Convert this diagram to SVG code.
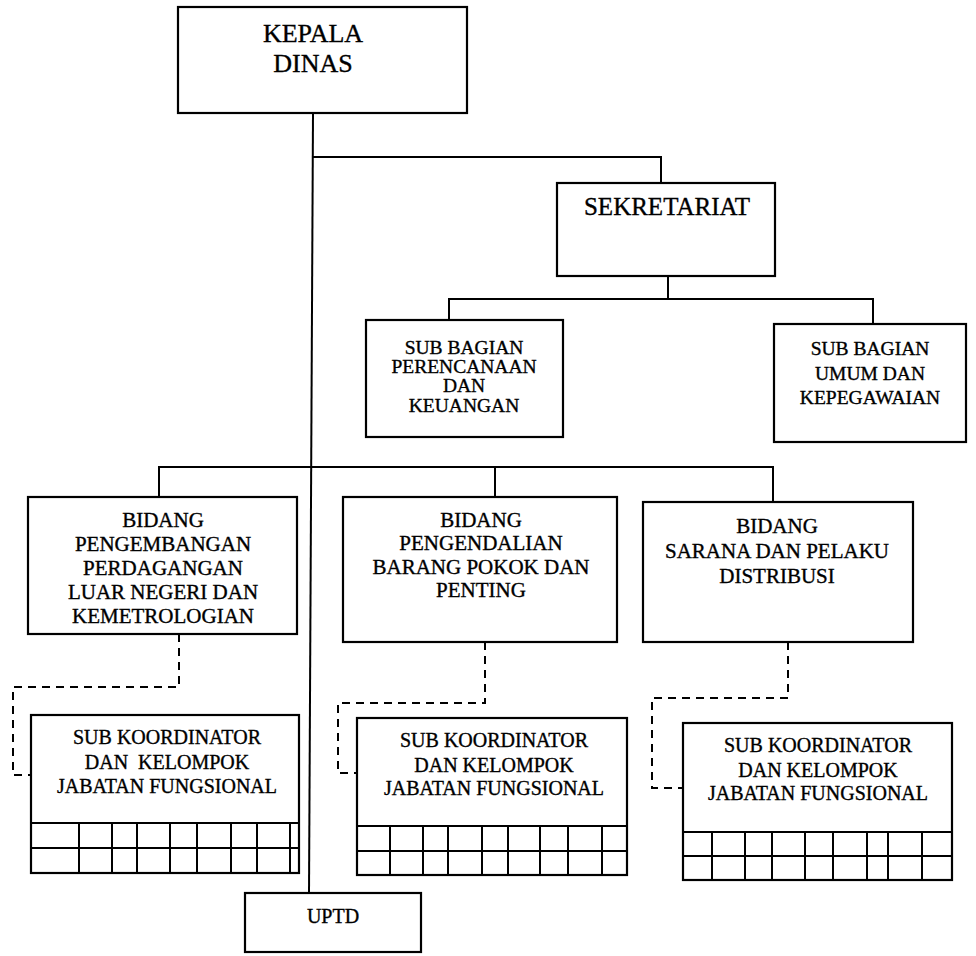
<svg xmlns="http://www.w3.org/2000/svg" width="976" height="956" viewBox="0 0 976 956">
<style>
.box{fill:#fff;stroke:#000;stroke-width:2.2}
.ln{fill:none;stroke:#000;stroke-width:2}
.dash{fill:none;stroke:#000;stroke-width:2;stroke-dasharray:8 6}
.grid{fill:none;stroke:#000;stroke-width:2}
text{font-family:"Liberation Serif","DejaVu Serif",serif;fill:#000;stroke:#000;stroke-width:0.35;text-anchor:middle}
.t1{font-size:26px}
.t2{font-size:25px}
.t3{font-size:19.5px}
.t4{font-size:21px}
.t5{font-size:20px}
</style>
<rect width="976" height="956" fill="#fff"/>
<g id="connectors">
<path class="ln" d="M313,113 L309,893"/>
<path class="ln" d="M313,157 H661 V183"/>
<path class="ln" d="M668,276 V299"/>
<path class="ln" d="M449,320 V299 H873 V324"/>
<path class="ln" d="M159,497 V467 H773 V502"/>
<path class="ln" d="M495,467 V497"/>
<path class="dash" d="M179,634 V687 H13 V775 H31"/>
<path class="dash" d="M485,642 V703 H338 V773 H357"/>
<path class="dash" d="M788,642 V698 H652 V788 H683"/>
</g>
<g id="kepala-dinas">
<rect class="box" x="178" y="7" width="289" height="106"/>
<text class="t1" x="313" y="42">KEPALA</text>
<text class="t1" x="313" y="72">DINAS</text>
</g>
<g id="sekretariat">
<rect class="box" x="557" y="183" width="218" height="93"/>
<text class="t2" x="667" y="215">SEKRETARIAT</text>
</g>
<g id="subbag-perencanaan">
<rect class="box" x="366" y="320" width="197" height="117"/>
<text class="t3" x="464" y="354">SUB BAGIAN</text>
<text class="t3" x="464" y="373">PERENCANAAN</text>
<text class="t3" x="464" y="392">DAN</text>
<text class="t3" x="464" y="412">KEUANGAN</text>
</g>
<g id="subbag-umum">
<rect class="box" x="774" y="324" width="192" height="118"/>
<text class="t3" x="870" y="355">SUB BAGIAN</text>
<text class="t3" x="870" y="380">UMUM DAN</text>
<text class="t3" x="870" y="404">KEPEGAWAIAN</text>
</g>
<g id="bidang-1">
<rect class="box" x="28" y="497" width="269" height="137"/>
<text class="t4" x="163" y="527">BIDANG</text>
<text class="t4" x="163" y="551">PENGEMBANGAN</text>
<text class="t4" x="163" y="575">PERDAGANGAN</text>
<text class="t4" x="163" y="599">LUAR NEGERI DAN</text>
<text class="t4" x="163" y="623">KEMETROLOGIAN</text>
</g>
<g id="bidang-2">
<rect class="box" x="343" y="497" width="274" height="145"/>
<text class="t4" x="481" y="527">BIDANG</text>
<text class="t4" x="481" y="550">PENGENDALIAN</text>
<text class="t4" x="481" y="574">BARANG POKOK DAN</text>
<text class="t4" x="481" y="597">PENTING</text>
</g>
<g id="bidang-3">
<rect class="box" x="643" y="502" width="270" height="140"/>
<text class="t4" x="777" y="533">BIDANG</text>
<text class="t4" x="777" y="558">SARANA DAN PELAKU</text>
<text class="t4" x="777" y="583">DISTRIBUSI</text>
</g>
<g id="subkoor-1">
<rect class="box" x="31" y="715" width="268" height="158"/>
<text class="t5" x="167" y="744">SUB KOORDINATOR</text>
<text class="t5" x="167" y="769" xml:space="preserve">DAN  KELOMPOK</text>
<text class="t5" x="167" y="793">JABATAN FUNGSIONAL</text>
<path class="grid" d="M31,823 H299 M31,848 H299 M79,823 V873 M112,823 V873 M137,823 V873 M170,823 V873 M197,823 V873 M231,823 V873 M257,823 V873 M290,823 V873"/>
</g>
<g id="subkoor-2">
<rect class="box" x="357" y="718" width="270" height="157"/>
<text class="t5" x="494" y="747">SUB KOORDINATOR</text>
<text class="t5" x="494" y="772">DAN KELOMPOK</text>
<text class="t5" x="494" y="795">JABATAN FUNGSIONAL</text>
<path class="grid" d="M357,826 H627 M357,851 H627 M390,826 V875 M423,826 V875 M448,826 V875 M482,826 V875 M508,826 V875 M540,826 V875 M568,826 V875 M602,826 V875"/>
</g>
<g id="subkoor-3">
<rect class="box" x="683" y="723" width="269" height="157"/>
<text class="t5" x="818" y="752">SUB KOORDINATOR</text>
<text class="t5" x="818" y="777">DAN KELOMPOK</text>
<text class="t5" x="818" y="800">JABATAN FUNGSIONAL</text>
<path class="grid" d="M683,832 H952 M683,856 H952 M712,832 V880 M745,832 V880 M772,832 V880 M805,832 V880 M833,832 V880 M867,832 V880 M888,832 V880 M922,832 V880"/>
</g>
<g id="uptd">
<rect class="box" x="245" y="893" width="176" height="59"/>
<text class="t5" x="333" y="923">UPTD</text>
</g>
</svg>
